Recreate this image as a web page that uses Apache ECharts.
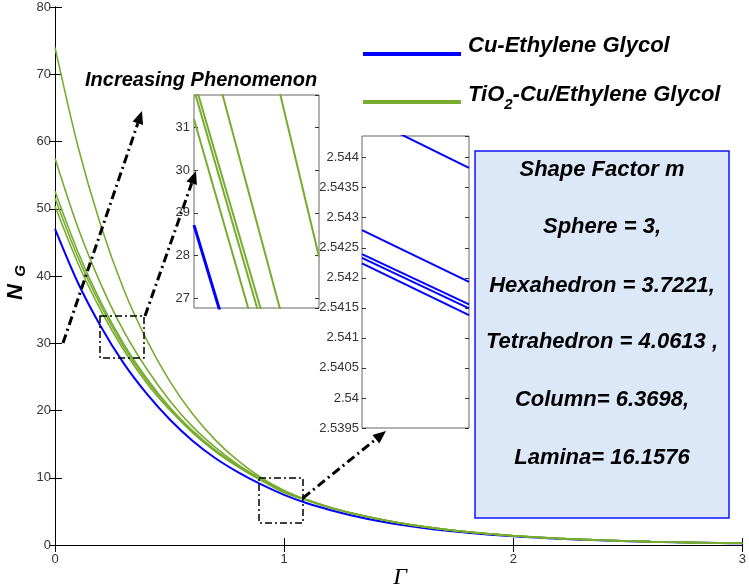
<!DOCTYPE html>
<html>
<head>
<meta charset="utf-8">
<script src="https://cdn.jsdelivr.net/npm/echarts@6/dist/echarts.min.js"></script>
<style>html,body{margin:0;padding:0;background:#fff;}#c{width:749px;height:588px;}</style>
</head>
<body>
<div id="c"></div>
<script>
// ---- main plot data (Gamma vs N_G) ----
const gammaVals = [0,0.1,0.2,0.3,0.4,0.5,0.6,0.7,0.8,0.9,1.0,1.1,1.2,1.3,1.4,1.5,1.6,1.7,1.8,1.9,2.0,2.1,2.2,2.3,2.4,2.5,2.6,2.7,2.8,2.9,3.0];
const blueNG   = [47.0,39.0,32.5,27.0,22.5,18.7,15.5,12.9,10.8,9.0,7.45,6.2,5.2,4.35,3.65,3.05,2.56,2.15,1.82,1.54,1.30,1.10,0.93,0.79,0.67,0.57,0.48,0.41,0.35,0.30,0.25];
const greenNG1 = [74.0,59.3,47.5,38.0,30.5,24.4,19.5,15.6,12.5,10.0,8.1,6.65,5.55,4.68,3.93,3.29,2.76,2.31,1.95,1.64,1.38,1.16,0.98,0.83,0.70,0.59,0.50,0.42,0.36,0.30,0.26];
const greenNG2 = [57.5,47.2,38.8,31.8,26.2,21.5,17.6,14.5,11.9,9.8,8.0,6.72,5.62,4.72,3.96,3.31,2.78,2.33,1.96,1.65,1.39,1.17,0.99,0.84,0.71,0.60,0.51,0.43,0.36,0.31,0.26];
const greenNG3 = [52.6,43.6,36.1,29.9,24.8,20.5,17.0,14.1,11.7,9.7,7.9,6.68,5.59,4.70,3.95,3.30,2.77,2.32,1.95,1.64,1.38,1.16,0.98,0.83,0.70,0.59,0.50,0.42,0.36,0.30,0.26];
const greenNG4 = [51.6,42.8,35.6,29.5,24.5,20.4,16.9,14.0,11.7,9.7,7.85,6.66,5.58,4.69,3.94,3.30,2.77,2.32,1.95,1.64,1.38,1.16,0.98,0.83,0.70,0.59,0.50,0.42,0.36,0.30,0.26];
const greenNG5 = [50.4,41.9,34.9,29.0,24.1,20.1,16.7,13.9,11.6,9.6,7.8,6.64,5.57,4.68,3.93,3.29,2.76,2.31,1.94,1.63,1.37,1.15,0.97,0.82,0.70,0.59,0.50,0.42,0.36,0.30,0.26];
const xTicks = [0,1,2,3];
const yTicks = [0,10,20,30,40,50,60,70,80];

// ---- inset 1 (zoom near N_G ~ 27-31) ----
const inset1X = [0, 1];
const inset1Blue = [28.71, 19.0];
const inset1GreenA = [31.19, 20.99];
const inset1GreenB = [31.89, 21.75];
const inset1GreenC = [32.11, 22.07];
const inset1GreenD = [34.26, 23.34];
const inset1GreenE = [40.24, 27.97];
const inset1YRange = [26.77, 31.76];

// ---- inset 2 (zoom near N_G ~ 2.54) ----
const inset2X = [0, 1];
const inset2Blue1 = [2.544706, 2.54383];
const inset2Blue2 = [2.542795, 2.541933];
const inset2Blue3 = [2.542395, 2.541557];
const inset2Blue4 = [2.542333, 2.54149];
const inset2Blue5 = [2.54224, 2.541378];
const inset2YRange = [2.5395, 2.54436];

const legendNames = ['Cu-Ethylene Glycol', 'TiO2-Cu/Ethylene Glycol'];
const shapeLines = ['Shape Factor m','Sphere = 3,','Hexahedron = 3.7221,','Tetrahedron = 4.0613 ,','Column= 6.3698,','Lamina= 16.1576'];

const BLUE = '#0000ff', GREEN = '#77ac30';
const FONT = 'Liberation Sans, Arial, sans-serif';

function pairs(xs, ys){ return xs.map((x,i)=>[x, ys[i]]); }

const chart = echarts.init(document.getElementById('c'), null, {renderer:'canvas', width:749, height:588});

const tickLbl = {color:'#333', fontSize:12, fontFamily:FONT};

function mainLine(name, ys, color, w){
  return {type:'line', name:name, xAxisIndex:0, yAxisIndex:0, data:pairs(gammaVals, ys), smooth:0.3,
    showSymbol:false, symbol:'none', lineStyle:{color:color, width:w}, z:2, silent:true, animation:false};
}
function insetLine(xi, yi, xs, ys, color, w){
  return {type:'line', xAxisIndex:xi, yAxisIndex:yi, data:pairs(xs, ys), showSymbol:false, symbol:'none',
    lineStyle:{color:color, width:w}, z:12, silent:true, animation:false, clip:true};
}

// arrow helper (annotation graphics in pixel space)
function arrow(x1,y1,x2,y2){
  const dx=x2-x1, dy=y2-y1, L=Math.sqrt(dx*dx+dy*dy), ux=dx/L, uy=dy/L;
  const hl=13, hw=5.5;
  const bx=x2-ux*hl, by=y2-uy*hl;
  return [
    {type:'line', shape:{x1:x1,y1:y1,x2:bx,y2:by}, style:{stroke:'#000', lineWidth:3, lineDash:[9,4,2,4]}, z:100},
    {type:'polygon', shape:{points:[[x2,y2],[bx-uy*hw,by+ux*hw],[bx+uy*hw,by-ux*hw]]}, style:{fill:'#000'}, z:100}
  ];
}
function dashBox(x,y,w,h){
  return {type:'rect', shape:{x:x,y:y,width:w,height:h}, style:{fill:'none', stroke:'#000', lineWidth:1.5, lineDash:[7,3,2,3]}, z:100};
}

// measure text for legend subscript
const mctx = document.createElement('canvas').getContext('2d');
function tw(txt, font){ mctx.font = font; return mctx.measureText(txt).width; }
const legFont = 'italic bold 22px ' + FONT;
const legSubFont = 'italic bold 15px ' + FONT;
const wTiO = tw('TiO', legFont), w2 = tw('2', legSubFont);

const graphics = [
  // legend
  {type:'line', shape:{x1:363,y1:54,x2:461,y2:54}, style:{stroke:BLUE, lineWidth:4}, z:100},
  {type:'text', style:{x:468, y:46, text:legendNames[0], font:legFont, fill:'#000', textVerticalAlign:'middle'}, z:100},
  {type:'line', shape:{x1:363,y1:102,x2:461,y2:102}, style:{stroke:GREEN, lineWidth:4}, z:100},
  {type:'text', style:{x:468, y:95, text:'TiO', font:legFont, fill:'#000', textVerticalAlign:'middle'}, z:100},
  {type:'text', style:{x:468+wTiO, y:105, text:'2', font:legSubFont, fill:'#000', textVerticalAlign:'middle'}, z:100},
  {type:'text', style:{x:468+wTiO+w2, y:95, text:'-Cu/Ethylene Glycol', font:legFont, fill:'#000', textVerticalAlign:'middle'}, z:100},
  // Increasing Phenomenon
  {type:'text', style:{x:85, y:80, text:'Increasing Phenomenon', font:'italic bold 20px '+FONT, fill:'#000', textVerticalAlign:'middle'}, z:100},
  // shape factor box
  {type:'rect', shape:{x:475,y:151,width:254,height:367}, style:{fill:'#dce8f8', stroke:'#1010ff', lineWidth:1.5}, z:90},
  // axis names
  {type:'text', rotation:Math.PI/2, x:16, y:292, style:{x:0,y:0,text:'N', font:'italic bold 22px '+FONT, fill:'#000', textAlign:'center', textVerticalAlign:'middle'}, z:100},
  {type:'text', rotation:Math.PI/2, x:21, y:271, style:{x:0,y:0,text:'G', font:'italic bold 15px '+FONT, fill:'#000', textAlign:'center', textVerticalAlign:'middle'}, z:100},
  {type:'text', style:{x:400, y:578, text:'Γ', font:'italic 24px Liberation Serif, serif', fill:'#000', textAlign:'center', textVerticalAlign:'middle'}, z:100},
  dashBox(100,316,44,42),
  dashBox(259,478,44,45)
];
const ys = [170,227,286,342,400,458];
shapeLines.forEach((t,i)=>graphics.push({type:'text', style:{x:602, y:ys[i], text:t, font:'italic bold 22px '+FONT, fill:'#000', textAlign:'center', textVerticalAlign:'middle'}, z:100}));
graphics.push(...arrow(63,343,142,111));
graphics.push(...arrow(145,316,196,171));
graphics.push(...arrow(303,498,386,431));

const option = {
  animation:false,
  backgroundColor:'#fff',
  grid:[
    {left:55, top:7, right:6, bottom:43, show:false},
    {left:194, top:95, width:125, height:213, show:true, backgroundColor:'#fff', borderColor:'#666', borderWidth:1, z:10},
    {left:362, top:136, width:107, height:292, show:true, backgroundColor:'#fff', borderColor:'#666', borderWidth:1, z:10}
  ],
  xAxis:[
    {type:'value', gridIndex:0, min:0, max:3, interval:1, axisLine:{lineStyle:{color:'#000'}}, axisTick:{inside:true, length:7, lineStyle:{color:'#000'}},
      axisLabel:{...tickLbl, fontSize:13, margin:8}, splitLine:{show:false}},
    {type:'value', gridIndex:0, position:'top', min:0, max:3, interval:1, axisLine:{lineStyle:{color:'#000'}}, axisTick:{inside:true, length:7, lineStyle:{color:'#000'}},
      axisLabel:{show:false}, splitLine:{show:false}},
    {type:'value', gridIndex:1, min:0, max:1, axisLine:{show:false}, axisTick:{show:false}, axisLabel:{show:false}, splitLine:{show:false}, z:11},
    {type:'value', gridIndex:2, min:0, max:1, axisLine:{show:false}, axisTick:{show:false}, axisLabel:{show:false}, splitLine:{show:false}, z:11}
  ],
  yAxis:[
    {type:'value', gridIndex:0, min:0, max:80, interval:10, axisLine:{show:true, lineStyle:{color:'#000'}}, axisTick:{show:true, inside:true, length:7, lineStyle:{color:'#000'}},
      axisLabel:{...tickLbl, fontSize:13, margin:4}, splitLine:{show:false}},
    {type:'value', gridIndex:0, position:'right', min:0, max:80, interval:10, axisLine:{show:true, lineStyle:{color:'#000'}}, axisTick:{show:true, inside:true, length:6, lineStyle:{color:'#000'}},
      axisLabel:{show:false}, splitLine:{show:false}},
    {type:'value', gridIndex:1, min:inset1YRange[0], max:inset1YRange[1], splitNumber:5, axisLine:{show:false}, axisTick:{show:true, inside:true, length:4, lineStyle:{color:'#333'}},
      axisLabel:{...tickLbl, fontSize:13, margin:4, showMinLabel:false, showMaxLabel:false}, splitLine:{show:false}, z:11},
    {type:'value', gridIndex:1, position:'right', min:inset1YRange[0], max:inset1YRange[1], splitNumber:5, axisLine:{show:false}, axisTick:{show:true, inside:true, length:4, lineStyle:{color:'#333'}},
      axisLabel:{show:false}, splitLine:{show:false}, z:11},
    {type:'value', gridIndex:2, min:inset2YRange[0], max:inset2YRange[1], interval:0.0005, axisLine:{show:false}, axisTick:{show:true, inside:true, length:4, lineStyle:{color:'#333'}},
      axisLabel:{...tickLbl, fontSize:13, margin:3, showMaxLabel:false, formatter:v=>String(+(+v).toFixed(4))}, splitLine:{show:false}, z:11},
    {type:'value', gridIndex:2, position:'right', min:inset2YRange[0], max:inset2YRange[1], interval:0.0005, axisLine:{show:false}, axisTick:{show:true, inside:true, length:4, lineStyle:{color:'#333'}},
      axisLabel:{show:false}, splitLine:{show:false}, z:11}
  ],
  series:[
    mainLine(legendNames[0], blueNG, BLUE, 2),
    mainLine(legendNames[1], greenNG1, GREEN, 1.6),
    mainLine(legendNames[1], greenNG2, GREEN, 1.6),
    mainLine(legendNames[1], greenNG3, GREEN, 1.6),
    mainLine(legendNames[1], greenNG4, GREEN, 1.6),
    mainLine(legendNames[1], greenNG5, GREEN, 1.6),
    insetLine(2, 2, inset1X, inset1Blue, BLUE, 3),
    insetLine(2, 2, inset1X, inset1GreenA, GREEN, 2),
    insetLine(2, 2, inset1X, inset1GreenB, GREEN, 2),
    insetLine(2, 2, inset1X, inset1GreenC, GREEN, 2),
    insetLine(2, 2, inset1X, inset1GreenD, GREEN, 2),
    insetLine(2, 2, inset1X, inset1GreenE, GREEN, 2),
    insetLine(3, 4, inset2X, inset2Blue1, BLUE, 2),
    insetLine(3, 4, inset2X, inset2Blue2, BLUE, 2),
    insetLine(3, 4, inset2X, inset2Blue3, BLUE, 2),
    insetLine(3, 4, inset2X, inset2Blue4, BLUE, 2),
    insetLine(3, 4, inset2X, inset2Blue5, BLUE, 2)
  ],
  graphic:{elements:graphics}
};
chart.setOption(option);
</script>
</body>
</html>
